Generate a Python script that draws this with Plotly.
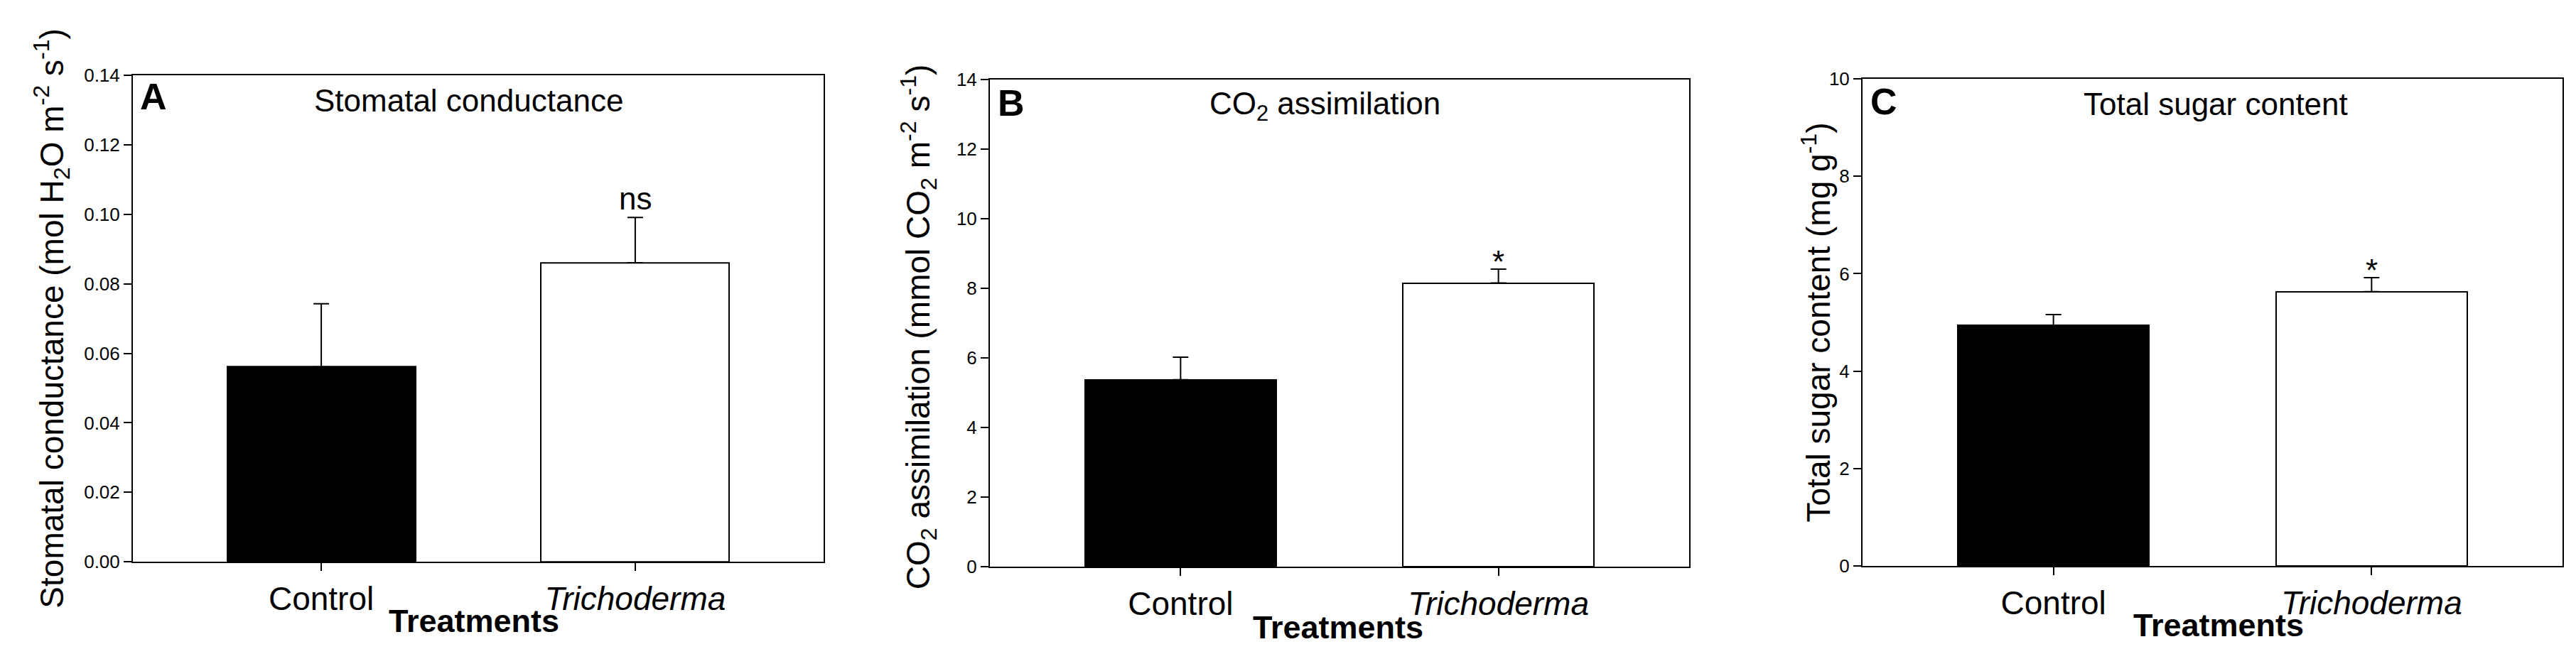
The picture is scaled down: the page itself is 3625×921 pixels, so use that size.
import plotly.graph_objects as go

# ---------------- data ----------------
categories = ["Control", "Trichoderma"]
tick_text = ["Control", "<i>Trichoderma</i>"]

stomatal_mean = [0.0561, 0.0861]
stomatal_err = [0.0182, 0.0130]

co2_mean = [5.37, 8.15]
co2_err = [0.65, 0.40]

sugar_mean = [4.94, 5.63]
sugar_err = [0.22, 0.29]

sig_labels_A = ["", "ns"]
sig_labels_B = ["", "*"]
sig_labels_C = ["", "*"]

panel_letters = ["A", "B", "C"]
panel_titles = ["Stomatal conductance", "CO<sub>2</sub> assimilation", "Total sugar content"]
y_titles = [
    "Stomatal conductance (mol H<sub>2</sub>O m<sup>-2</sup> s<sup>-1</sup>)",
    "CO<sub>2</sub> assimilation (mmol CO<sub>2</sub> m<sup>-2</sup> s<sup>-1</sup>)",
    "Total sugar content (mg g<sup>-1</sup>)",
]
x_title = "Treatments"
y_ranges = [[0, 0.14], [0, 14], [0, 10]]
y_dticks = [0.02, 2, 2]
y_formats = [".2f", "d", "d"]

# ---------------- layout helpers ----------------
W, H = 3625, 921
FONT = "Liberation Sans, Arial, Helvetica, sans-serif"


def fx(p):
    return p / W


def fy(p):
    return 1 - p / H


# plot boxes in pixels: (left, right, top, bottom)
boxes = [(179, 1151, 86, 794), (1385, 2369, 92, 801), (2613, 3598, 91, 800)]
bar_colors = ["black", "white"]

fig = go.Figure()

means = [stomatal_mean, co2_mean, sugar_mean]
errs = [stomatal_err, co2_err, sugar_err]
sigs = [sig_labels_A, sig_labels_B, sig_labels_C]

for i in range(3):
    xa = "x" if i == 0 else f"x{i+1}"
    ya = "y" if i == 0 else f"y{i+1}"
    fig.add_trace(go.Bar(
        x=categories, y=means[i], width=0.6,
        marker=dict(color=bar_colors, line=dict(color="black", width=2)),
        error_y=dict(type="data", array=errs[i], arrayminus=[0, 0], symmetric=False,
                     color="black", thickness=2, width=11),
        xaxis=xa, yaxis=ya, showlegend=False,
    ))

layout = dict(
    width=W, height=H,
    margin=dict(l=0, r=0, t=0, b=0),
    paper_bgcolor="white", plot_bgcolor="white",
    font=dict(family=FONT, color="black"),
    bargap=0,
)

annotations = []
for i, (l, r, t, b) in enumerate(boxes):
    sfx = "" if i == 0 else str(i + 1)
    layout["xaxis" + sfx] = dict(
        domain=[fx(l), fx(r)], anchor="y" + sfx,
        type="category", range=[-0.6, 1.6],
        tickmode="array", tickvals=categories, ticktext=tick_text,
        showline=True, linecolor="black", linewidth=2, mirror=True,
        ticks="outside", ticklen=11, tickwidth=2, tickcolor="black",
        tickfont=dict(size=46, family=FONT, color="black"),
        showgrid=False, zeroline=False, fixedrange=True,
    )
    layout["yaxis" + sfx] = dict(
        domain=[fy(b), fy(t)], anchor="x" + sfx,
        range=y_ranges[i], dtick=y_dticks[i], tick0=0, tickformat=y_formats[i],
        showline=True, linecolor="black", linewidth=2, mirror=True,
        ticks="outside", ticklen=11, tickwidth=2, tickcolor="black",
        tickfont=dict(size=26, family=FONT, color="black"),
        showgrid=False, zeroline=False, fixedrange=True,
    )

# panel letters
letter_pos = [(187, 117), (1394, 126), (2622, 124)]
for (px, py), letter in zip(letter_pos, panel_letters):
    annotations.append(dict(text=f"<b>{letter}</b>", x=fx(px), y=fy(py), xref="paper", yref="paper",
                            xanchor="left", yanchor="middle", showarrow=False,
                            font=dict(size=52, family=FONT, color="black")))

# panel titles
title_pos = [(651, 122), (1857, 130), (3110, 128)]
for (px, py), ttl in zip(title_pos, panel_titles):
    annotations.append(dict(text=ttl, x=fx(px), y=fy(py), xref="paper", yref="paper",
                            xanchor="center", yanchor="middle", showarrow=False,
                            font=dict(size=44, family=FONT, color="black")))

# y-axis titles
ytitle_pos = [(65, 440), (1284, 452), (2548, 446)]
for (px, py), yt in zip(ytitle_pos, y_titles):
    annotations.append(dict(text=yt, x=fx(px), y=fy(py), xref="paper", yref="paper",
                            xanchor="center", yanchor="middle", textangle=-90, showarrow=False,
                            font=dict(size=46, family=FONT, color="black")))

# x-axis titles
xtitle_pos = [(659, 880), (1875, 889), (3114, 886)]
for (px, py) in xtitle_pos:
    annotations.append(dict(text=f"<b>{x_title}</b>", x=fx(px), y=fy(py), xref="paper", yref="paper",
                            xanchor="center", yanchor="middle", showarrow=False,
                            font=dict(size=45, family=FONT, color="black")))

# significance labels
for i in range(3):
    sfx = "" if i == 0 else str(i + 1)
    for j, lab in enumerate(sigs[i]):
        if not lab:
            continue
        annotations.append(dict(text=lab, x=categories[j], y=means[i][j] + errs[i][j],
                                xref="x" + sfx, yref="y" + sfx,
                                xanchor="center", yanchor="bottom",
                                yshift=0 if lab == "ns" else -16, showarrow=False,
                                font=dict(size=44, family=FONT, color="black")))

layout["annotations"] = annotations
fig.update_layout(**layout)
fig.write_html("out.html")
